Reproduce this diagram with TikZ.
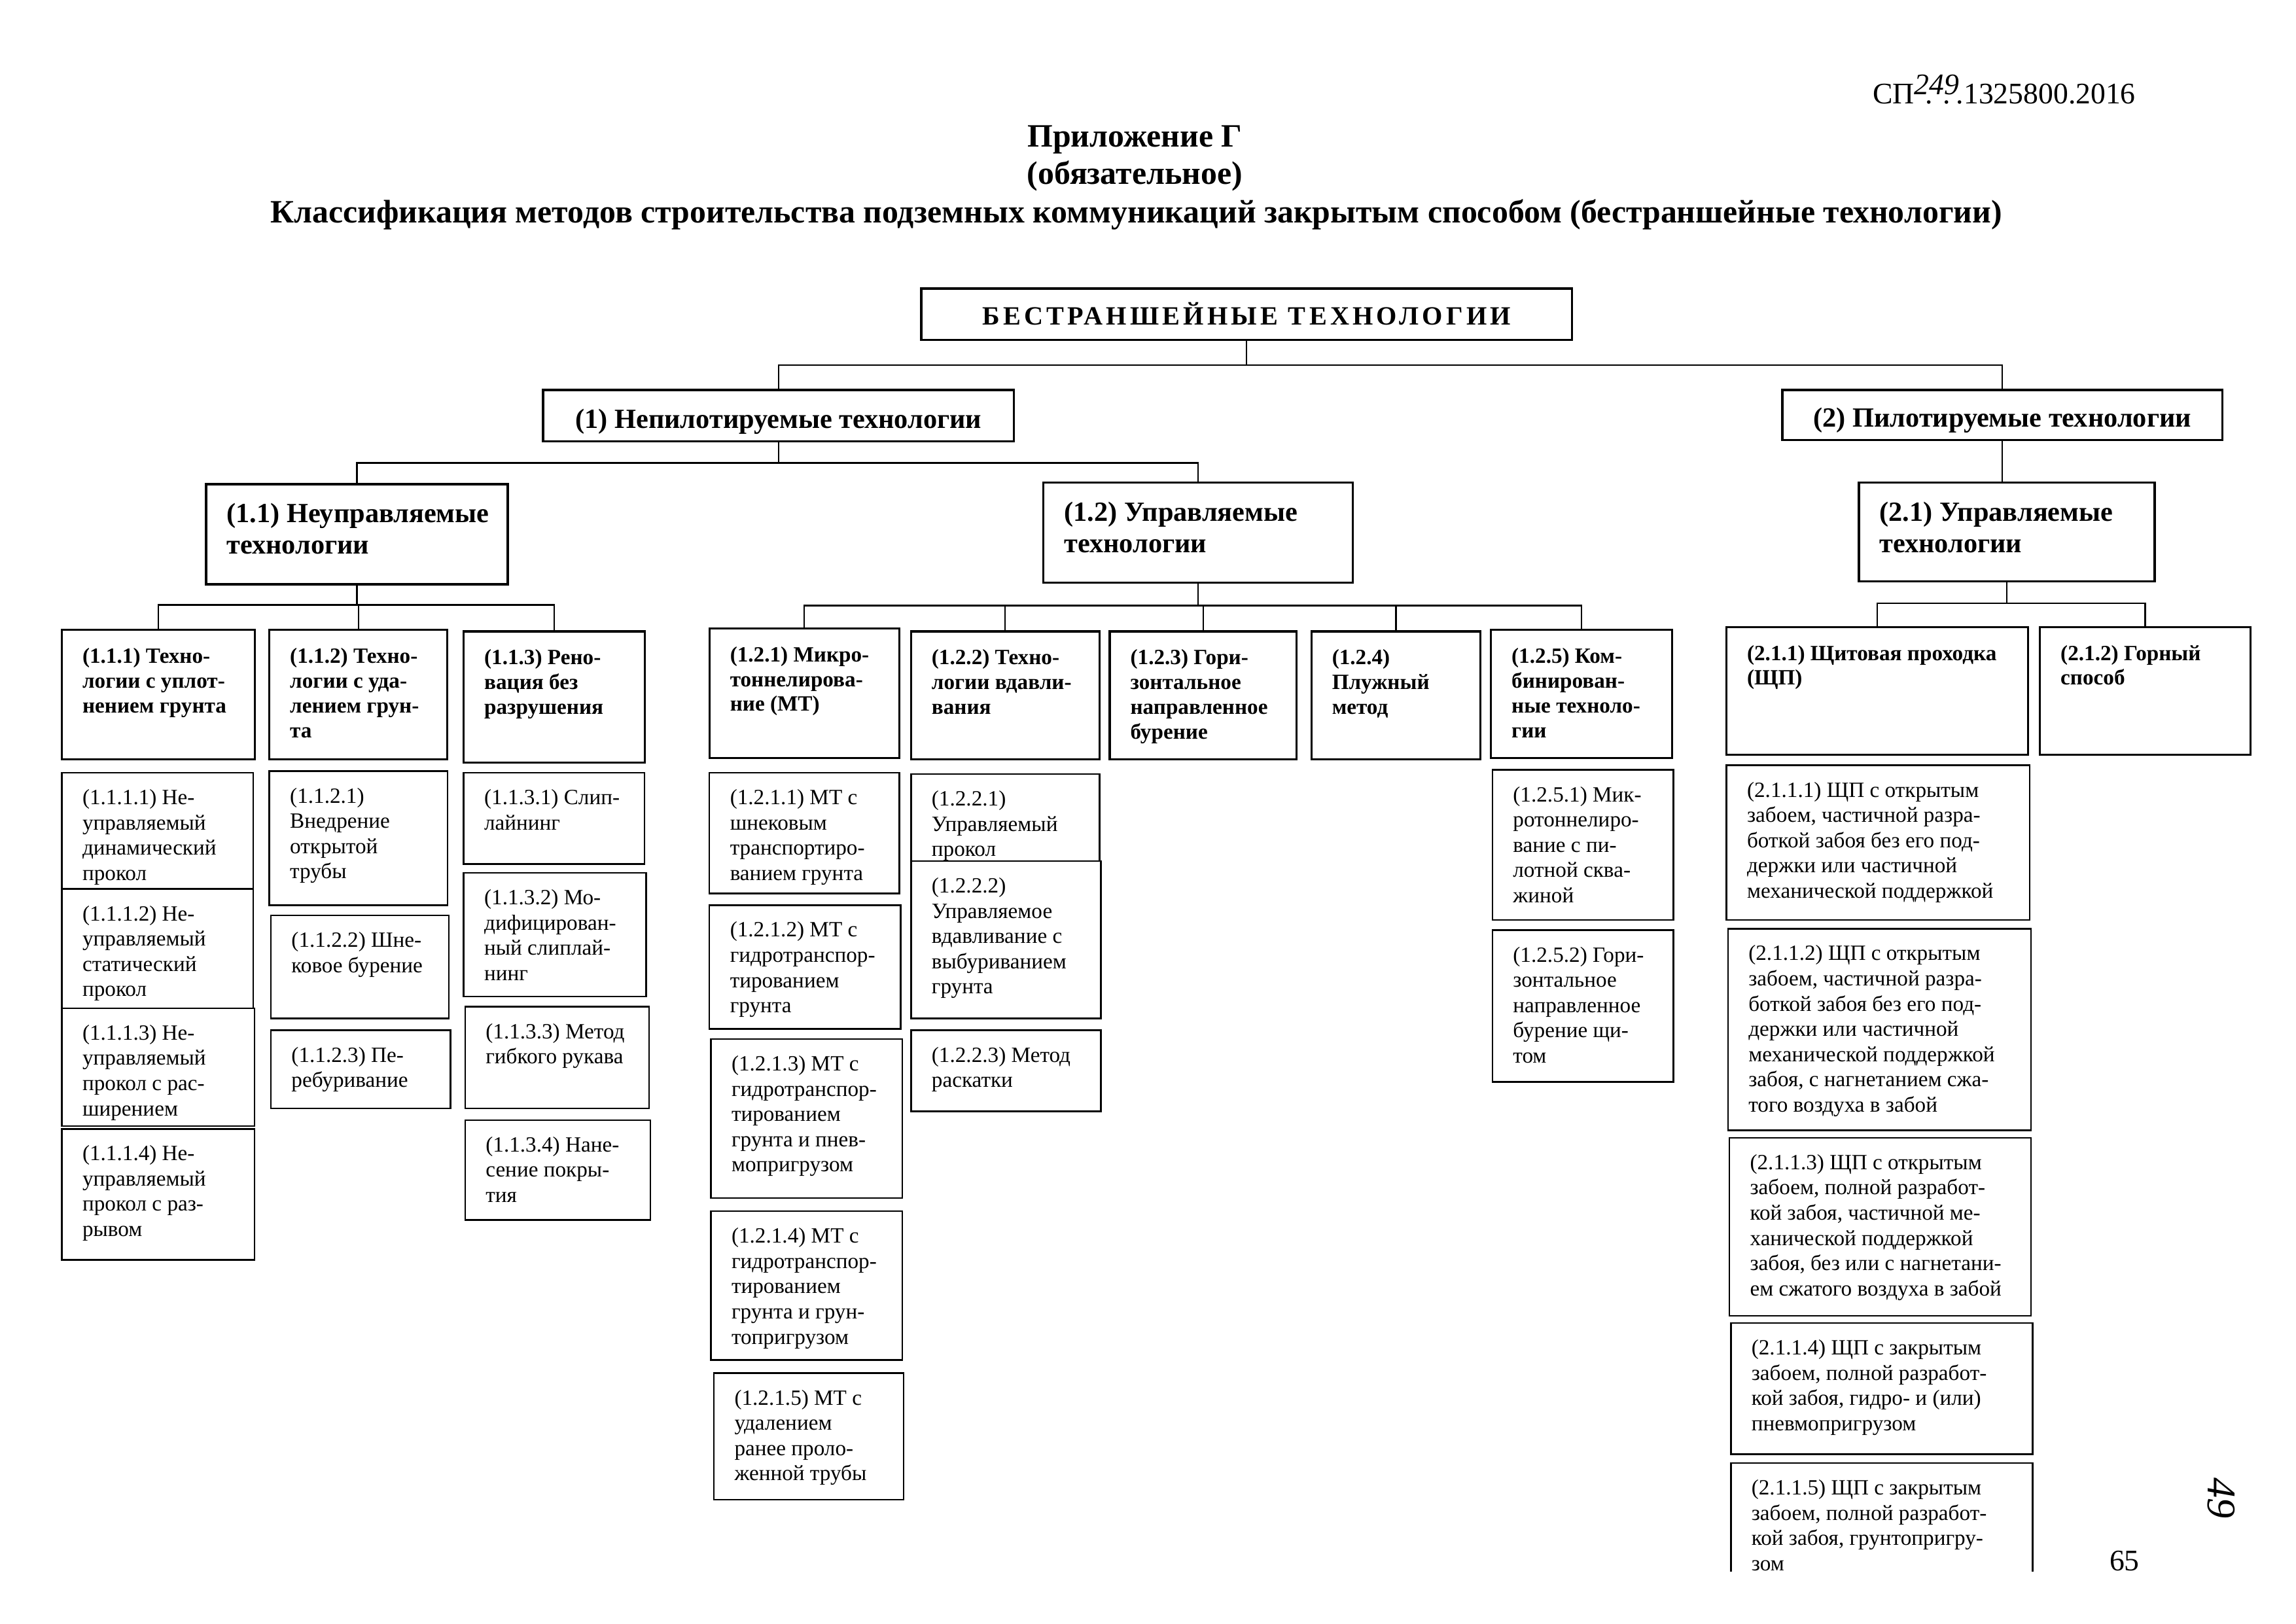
\documentclass[tikz,border=0pt]{standalone}
\usepackage{fontspec}
\setmainfont{Liberation Serif}
\newfontfamily\rootfont[LetterSpace=13]{Liberation Serif}
\newcommand\fA{\fontsize{8}{9.29}\selectfont}
\newcommand\fB{\fontsize{8}{9.1}\selectfont\bfseries}
\newcommand\fC{\fontsize{10.2}{11.65}\selectfont\bfseries}
\newcommand\mybox[7]{%
 \pgfmathsetlengthmacro\bw{(#4-#2)*0.0190385cm}%
 \pgfmathsetlengthmacro\bh{(#5-#3)*0.0190385cm}%
 \node[#6,anchor=north west,inner sep=0pt,outer sep=0pt] (#1) at (#2,#3) {\begin{minipage}[t][\bh][t]{\bw}#7\end{minipage}};}
\newcommand\lt[3]{\vspace*{#1}#2\raggedright\setlength\leftskip{7.6pt}\strut #3\par}
\newcommand\ct[3]{\vspace*{#1}#2\centering\strut #3\par}
\tikzset{
 boxA/.style={draw,line width=0.6pt,fill=white},
 boxB/.style={draw,line width=0.75pt,fill=white},
 boxC/.style={draw,line width=0.8pt,fill=white},
 conn/.style={line width=0.55pt},
 title/.style={font=\fontsize{12}{13.8}\selectfont\bfseries,inner sep=0pt}
}
\begin{document}
\begin{tikzpicture}[x=0.0190385cm,y=-0.0190385cm]
\fill[white] (0,0) rectangle (1560,1103);
\useasboundingbox (0,0) rectangle (1560,1103);
% header
\node[anchor=base west,inner sep=0pt,font=\fontsize{11}{13}\selectfont] (hdr) at (1272,70.3) {СП\rlap{\raisebox{3.2pt}{\itshape 249}}\hspace{4pt}.\hspace{3.8pt}.\hspace{2.2pt}.1325800.2016};
\node[title,anchor=base] (t1) at (771,100) {Приложение Г};
\node[title,anchor=base] (t2) at (771,125.2) {(обязательное)};
\node[title,anchor=base] (t3) at (772,151.2) {Классификация методов строительства подземных коммуникаций закрытым способом (бестраншейные технологии)};
% level 0-2
\mybox{root}{626}{196}{1068}{231}{boxC}{\ct{5.2pt}{\rootfont\bfseries\fontsize{9.7}{11}\selectfont}{БЕСТРАНШЕЙНЫЕ ТЕХНОЛОГИИ}}
\mybox{n1}{369}{265}{689}{300}{boxC}{\ct{5.9pt}{\fC}{(1) Непилотируемые технологии}}
\mybox{n2}{1211}{265}{1510}{299}{boxC}{\ct{5.4pt}{\fC}{(2) Пилотируемые технологии}}
\mybox{n11}{140}{329}{345}{397}{boxC}{\lt{5.9pt}{\fC}{(1.1) Неуправляемые\\технологии}}
\mybox{n12}{709}{328}{919}{396}{boxC}{\lt{5.9pt}{\fC}{(1.2) Управляемые\\технологии}}
\mybox{n21}{1263}{328}{1464}{395}{boxC}{\lt{5.9pt}{\fC}{(2.1) Управляемые\\технологии}}
% level 3
\mybox{n111}{42}{428}{173}{516}{boxB}{\lt{5.9pt}{\fB}{(1.1.1) Техно-\\логии с уплот-\\нением грунта}}
\mybox{n112}{183}{428}{304}{516}{boxB}{\lt{5.9pt}{\fB}{(1.1.2) Техно-\\логии с уда-\\лением грун-\\та}}
\mybox{n113}{315}{429}{438}{518}{boxB}{\lt{5.9pt}{\fB}{(1.1.3) Рено-\\вация без\\разрушения}}
\mybox{n121}{482}{427}{611}{515}{boxB}{\lt{5.9pt}{\fB}{(1.2.1) Микро-\\тоннелирова-\\ние (МТ)}}
\mybox{n122}{619}{429}{747}{516}{boxB}{\lt{5.9pt}{\fB}{(1.2.2) Техно-\\логии вдавли-\\вания}}
\mybox{n123}{754}{429}{881}{516}{boxB}{\lt{5.9pt}{\fB}{(1.2.3) Гори-\\зонтальное\\направленное\\бурение}}
\mybox{n124}{891}{429}{1006}{516}{boxB}{\lt{5.9pt}{\fB}{(1.2.4)\\Плужный\\метод}}
\mybox{n125}{1013}{428}{1136}{515}{boxB}{\lt{5.9pt}{\fB}{(1.2.5) Ком-\\бинирован-\\ные техноло-\\гии}}
\mybox{n211}{1173}{426}{1378}{513}{boxB}{\lt{5.9pt}{\fB}{(2.1.1) Щитовая проходка\\(ЩП)}}
\mybox{n212}{1386}{426}{1529}{513}{boxB}{\lt{5.9pt}{\fB}{(2.1.2) Горный\\способ}}
% level 4, column 1.1.1
\mybox{n1111}{42}{525}{172}{604}{boxA}{\lt{5.2pt}{\fA}{(1.1.1.1) Не-\\управляемый\\динамический\\прокол}}
\mybox{n1112}{42}{604}{172}{685}{boxA}{\lt{5.2pt}{\fA}{(1.1.1.2) Не-\\управляемый\\статический\\прокол}}
\mybox{n1113}{42}{685}{173}{765}{boxA}{\lt{5.2pt}{\fA}{(1.1.1.3) Не-\\управляемый\\прокол с рас-\\ширением}}
\mybox{n1114}{42}{767}{173}{856}{boxA}{\lt{5.2pt}{\fA}{(1.1.1.4) Не-\\управляемый\\прокол с раз-\\рывом}}
% column 1.1.2
\mybox{n1121}{183}{524}{304}{615}{boxA}{\lt{5.2pt}{\fA}{(1.1.2.1)\\Внедрение\\открытой\\трубы}}
\mybox{n1122}{184}{622}{305}{692}{boxA}{\lt{5.2pt}{\fA}{(1.1.2.2) Шне-\\ковое бурение}}
\mybox{n1123}{184}{700}{306}{753}{boxA}{\lt{5.2pt}{\fA}{(1.1.2.3) Пе-\\ребуривание}}
% column 1.1.3
\mybox{n1131}{315}{525}{438}{587}{boxA}{\lt{5.2pt}{\fA}{(1.1.3.1) Слип-\\лайнинг}}
\mybox{n1132}{315}{593}{439}{677}{boxA}{\lt{5.2pt}{\fA}{(1.1.3.2) Мо-\\дифицирован-\\ный слиплай-\\нинг}}
\mybox{n1133}{316}{684}{441}{753}{boxA}{\lt{5.2pt}{\fA}{(1.1.3.3) Метод\\гибкого рукава}}
\mybox{n1134}{316}{761}{442}{829}{boxA}{\lt{5.2pt}{\fA}{(1.1.3.4) Нане-\\сение покры-\\тия}}
% column 1.2.1
\mybox{n1211}{482}{525}{611}{607}{boxA}{\lt{5.2pt}{\fA}{(1.2.1.1) МТ с\\шнековым\\транспортиро-\\ванием грунта}}
\mybox{n1212}{482}{615}{612}{699}{boxA}{\lt{5.2pt}{\fA}{(1.2.1.2) МТ с\\гидротранспор-\\тированием\\грунта}}
\mybox{n1213}{483}{706}{613}{814}{boxA}{\lt{5.2pt}{\fA}{(1.2.1.3) МТ с\\гидротранспор-\\тированием\\грунта и пнев-\\мопригрузом}}
\mybox{n1214}{483}{823}{613}{924}{boxA}{\lt{5.2pt}{\fA}{(1.2.1.4) МТ с\\гидротранспор-\\тированием\\грунта и грун-\\топригрузом}}
\mybox{n1215}{485}{933}{614}{1019}{boxA}{\lt{5.2pt}{\fA}{(1.2.1.5) МТ с\\удалением\\ранее проло-\\женной трубы}}
% column 1.2.2
\mybox{n1221}{619}{526}{747}{585}{boxA}{\lt{5.2pt}{\fA}{(1.2.2.1)\\Управляемый\\прокол}}
\mybox{n1222}{619}{585}{748}{692}{boxA}{\lt{5.2pt}{\fA}{(1.2.2.2)\\Управляемое\\вдавливание с\\выбуриванием\\грунта}}
\mybox{n1223}{619}{700}{748}{755}{boxA}{\lt{5.2pt}{\fA}{(1.2.2.3) Метод\\раскатки}}
% column 1.2.5
\mybox{n1251}{1014}{523}{1137}{625}{boxA}{\lt{5.2pt}{\fA}{(1.2.5.1) Мик-\\ротоннелиро-\\вание с пи-\\лотной сква-\\жиной}}
\mybox{n1252}{1014}{632}{1137}{735}{boxA}{\lt{5.2pt}{\fA}{(1.2.5.2) Гори-\\зонтальное\\направленное\\бурение щи-\\том}}
% column 2.1.1
\mybox{n2111}{1173}{520}{1379}{625}{boxA}{\lt{5.2pt}{\fA}{(2.1.1.1) ЩП с открытым\\забоем, частичной разра-\\боткой забоя без его под-\\держки или частичной\\механической поддержкой}}
\mybox{n2112}{1174}{631}{1380}{768}{boxA}{\lt{5.2pt}{\fA}{(2.1.1.2) ЩП с открытым\\забоем, частичной разра-\\боткой забоя без его под-\\держки или частичной\\механической поддержкой\\забоя, с нагнетанием сжа-\\того воздуха в забой}}
\mybox{n2113}{1175}{773}{1380}{894}{boxA}{\lt{5.2pt}{\fA}{(2.1.1.3) ЩП с открытым\\забоем, полной разработ-\\кой забоя, частичной ме-\\ханической поддержкой\\забоя, без или с нагнетани-\\ем сжатого воздуха в забой}}
\mybox{n2114}{1176}{899}{1381}{988}{boxA}{\lt{5.2pt}{\fA}{(2.1.1.4) ЩП с закрытым\\забоем, полной разработ-\\кой забоя, гидро- и (или)\\пневмопригрузом}}
\mybox{n2115}{1176}{994}{1381}{1068}{fill=white}{\lt{5.2pt}{\fA}{(2.1.1.5) ЩП с закрытым\\забоем, полной разработ-\\кой забоя, грунтопригру-\\зом}}
\draw[line width=0.6pt] (n2115.south west) -- (n2115.north west) -- (n2115.north east) -- (n2115.south east);
% connectors
\draw[conn] (root.south) -- ++(0,17) coordinate (j0);
\draw[conn] (j0) -| (n1.north);
\draw[conn] (j0) -| (n2.north);
\draw[conn] (n1.south) -- ++(0,14.5) coordinate (j1);
\draw[conn] (j1) -| (n11.north);
\draw[conn] (j1) -| (n12.north);
\draw[conn] (n2.south) -- (n2.south |- n21.north);
\draw[conn] (n11.south) -- ++(0,14) coordinate (j11);
\draw[conn] (j11) -| (n111.north);
\draw[conn] (j11) -| (n112.north);
\draw[conn] (j11) -| (n113.north);
\draw[conn] (n12.south) -- ++(0,15.5) coordinate (j12);
\draw[conn] (j12) -| (n121.north);
\draw[conn] (j12) -| (n122.north);
\draw[conn] (j12) -| (n123.north);
\draw[conn] (j12) -| (n124.north);
\draw[conn] (j12) -| (n125.north);
\draw[conn] (n21.south) -- ++(0,15) coordinate (j21);
\draw[conn] (j21) -| (n211.north);
\draw[conn] (j21) -| (n212.north);
% page number and handwritten mark
\node[anchor=base,inner sep=0pt,font=\fontsize{11}{13}\selectfont] (pg) at (1443.5,1067) {65};
\node[rotate=-90,inner sep=0pt,font=\fontsize{15}{17}\selectfont\itshape] (hw2) at (1509,1018) {49};
\end{tikzpicture}
\end{document}
